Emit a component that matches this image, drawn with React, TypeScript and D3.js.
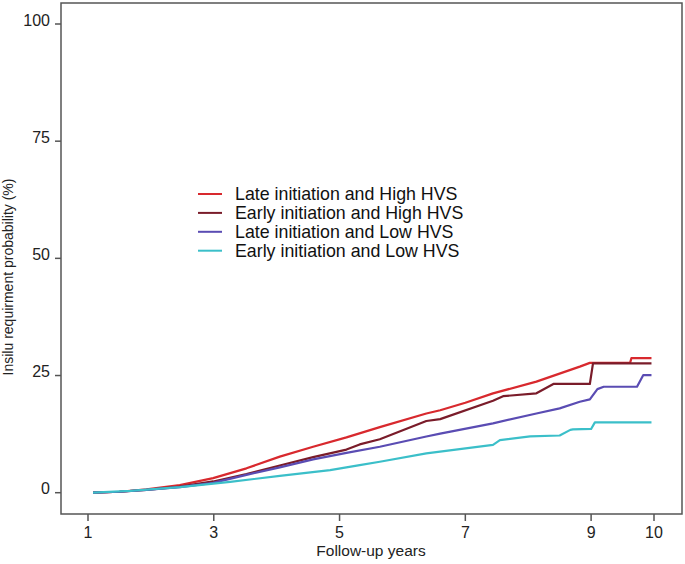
import React from "react";
import * as d3 from "d3";

const xTicks = [1, 3, 5, 7, 9, 10];
const yTicks = [0, 25, 50, 75, 100];

const seriesNames = [
  "Late initiation and High HVS",
  "Early initiation and High HVS",
  "Late initiation and Low HVS",
  "Early initiation and Low HVS",
];
const seriesColors = ["#d8292e", "#7a1c2a", "#5a4cb3", "#3bbfc9"];

const lateHighX = [1.08, 1.5, 1.93, 2.46, 2.99, 3.52, 4.05, 4.58, 5.11, 5.64, 6.38, 6.6, 7.0, 7.44, 8.13, 8.82, 8.98, 9.62, 9.64, 9.96];
const lateHighY = [0, 0.2, 0.7, 1.6, 3.1, 5.2, 7.7, 9.8, 11.8, 14.0, 16.9, 17.6, 19.2, 21.2, 23.7, 26.9, 27.7, 27.7, 28.7, 28.7];

const earlyHighX = [1.08, 1.5, 1.93, 2.46, 2.99, 3.52, 4.05, 4.58, 5.11, 5.32, 5.64, 6.38, 6.6, 7.44, 7.6, 8.13, 8.4, 8.98, 9.03, 9.96];
const earlyHighY = [0, 0.2, 0.6, 1.3, 2.4, 4.0, 5.8, 7.6, 9.2, 10.3, 11.4, 15.3, 15.7, 19.6, 20.6, 21.2, 23.2, 23.2, 27.6, 27.6];

const lateLowX = [1.08, 1.5, 1.93, 2.46, 2.99, 3.52, 4.05, 4.58, 5.11, 5.64, 6.38, 6.6, 7.44, 8.13, 8.5, 8.82, 8.98, 9.1, 9.2, 9.73, 9.83, 9.96];
const lateLowY = [0, 0.2, 0.6, 1.2, 2.1, 3.8, 5.4, 7.1, 8.5, 9.8, 12.0, 12.6, 14.8, 16.9, 18.0, 19.4, 19.9, 22.1, 22.6, 22.6, 25.1, 25.1];

const earlyLowX = [1.08, 1.67, 2.46, 3.26, 4.05, 4.85, 5.32, 5.64, 6.38, 7.44, 7.55, 8.03, 8.5, 8.67, 8.71, 9.0, 9.06, 9.96];
const earlyLowY = [0, 0.4, 1.2, 2.3, 3.6, 4.8, 5.9, 6.6, 8.4, 10.2, 11.2, 12.0, 12.2, 13.4, 13.5, 13.6, 15.0, 15.0];

const seriesX = [lateHighX, earlyHighX, lateLowX, earlyLowX];
const seriesY = [lateHighY, earlyHighY, lateLowY, earlyLowY];

const W = 685;
const H = 564;
const frame = { left: 61, right: 682, top: 3, bottom: 514 };
const FONT = "'Liberation Sans', Arial, Helvetica, sans-serif";

export default function App() {
  const x = d3.scaleLinear().domain([1, 10]).range([88, 654]);
  const y = d3.scaleLinear().domain([0, 100]).range([492.7, 24]);
  const line = d3
    .line<[number, number]>()
    .x((d) => x(d[0]))
    .y((d) => y(d[1]))
    .curve(d3.curveLinear);

  const axisColor = "#555";

  return (
    <svg
      width={W}
      height={H}
      style={{ position: "absolute", left: 0, top: 0, background: "#fff" }}
      fontFamily={FONT}
    >
      <rect x={0} y={0} width={W} height={H} fill="#fff" />
      {seriesX.map((xs, i) => {
        const pts = xs.map((v, j) => [v, seriesY[i][j]] as [number, number]);
        return (
          <path
            key={i}
            d={line(pts) || ""}
            fill="none"
            stroke={seriesColors[i]}
            strokeWidth={2.2}
            strokeLinejoin="round"
          />
        );
      })}
      <rect
        x={frame.left}
        y={frame.top}
        width={frame.right - frame.left}
        height={frame.bottom - frame.top}
        fill="none"
        stroke={axisColor}
        strokeWidth={1.5}
      />
      {yTicks.map((t) => (
        <g key={"y" + t}>
          <line x1={55} x2={frame.left} y1={y(t)} y2={y(t)} stroke={axisColor} strokeWidth={1.5} />
          <text x={50} y={y(t) - 4} textAnchor="end" dominantBaseline="central" fontSize={16} fill="#222">
            {t}
          </text>
        </g>
      ))}
      {xTicks.map((t) => (
        <g key={"x" + t}>
          <line x1={x(t)} x2={x(t)} y1={frame.bottom} y2={521} stroke={axisColor} strokeWidth={1.5} />
          <text x={x(t)} y={538} textAnchor="middle" fontSize={16} fill="#222">
            {t}
          </text>
        </g>
      ))}
      <text x={371} y={556} textAnchor="middle" fontSize={15.5} fill="#222">
        Follow-up years
      </text>
      <text
        transform={`translate(13, 277) rotate(-90)`}
        textAnchor="middle"
        fontSize={14}
        fill="#222"
      >
        Insilu requirment probability (%)
      </text>
      {seriesNames.map((n, i) => {
        const ly = 194 + i * 18.9;
        return (
          <g key={n}>
            <line x1={198} x2={222} y1={ly} y2={ly} stroke={seriesColors[i]} strokeWidth={2} />
            <text x={235} y={ly} dominantBaseline="central" fontSize={17.8} fill="#111">
              {n}
            </text>
          </g>
        );
      })}
    </svg>
  );
}
